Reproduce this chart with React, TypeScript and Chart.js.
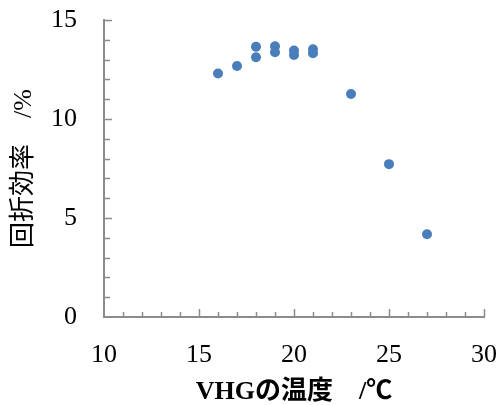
import React, { useEffect, useRef } from "react";
import { Chart, registerables } from "chart.js";

Chart.register(...registerables);

// ---- data ----
const temperatures = [16, 17, 18, 18, 19, 19, 20, 20, 21, 21, 23, 25, 27];
const efficiencies = [12.3, 12.68, 13.12, 13.65, 13.67, 13.37, 13.46, 13.23, 13.52, 13.32, 11.26, 7.72, 4.18];
const xRange = [10, 30];
const yRange = [0, 15];
const majorStep = 5;
const minorStep = 1;
const xTitle = "VHGの温度　/℃";
const yTitle = "回折効率　/%";

const AXIS_COLOR = "#8c8c8c";
const POINT_COLOR = "#4a7ebb";
const SERIF = "'Liberation Serif', 'Noto Sans CJK JP', serif";

const inwardTicks = {
  id: "inwardTicks",
  afterDraw(chart: any) {
    const { ctx, chartArea, scales } = chart;
    const x = scales.x;
    const y = scales.y;
    ctx.save();
    ctx.strokeStyle = AXIS_COLOR;
    ctx.lineWidth = 1.5;
    ctx.beginPath();
    for (let v = xRange[0] + minorStep; v <= xRange[1]; v += minorStep) {
      const px = Math.round(x.getPixelForValue(v)) + 0.5;
      const len = v % majorStep === 0 ? 8 : 5;
      ctx.moveTo(px, chartArea.bottom);
      ctx.lineTo(px, chartArea.bottom - len);
    }
    for (let v = yRange[0] + minorStep; v <= yRange[1]; v += minorStep) {
      const py = Math.round(y.getPixelForValue(v)) + 0.5;
      const len = v % majorStep === 0 ? 8 : 6;
      ctx.moveTo(chartArea.left, py);
      ctx.lineTo(chartArea.left + len, py);
    }
    ctx.stroke();
    ctx.restore();
  },
};

export default function App() {
  const canvasRef = useRef<HTMLCanvasElement | null>(null);

  useEffect(() => {
    document.body.style.margin = "0";
    const canvas = canvasRef.current;
    if (!canvas) return;
    const chart = new Chart(canvas, {
      type: "scatter",
      data: {
        datasets: [
          {
            data: temperatures.map((t, i) => ({ x: t, y: efficiencies[i] })),
            backgroundColor: POINT_COLOR,
            borderColor: POINT_COLOR,
            pointRadius: 5,
            pointBorderWidth: 0,
          },
        ],
      },
      options: {
        animation: false,
        responsive: false,
        maintainAspectRatio: false,
        layout: { padding: { top: 20, right: 20, left: 0, bottom: 0 } },
        plugins: { legend: { display: false }, tooltip: { enabled: false } },
        scales: {
          x: {
            type: "linear",
            min: xRange[0],
            max: xRange[1],
            afterFit: (s: any) => {
              s.height = 88;
              s.paddingLeft = 0;
              s.paddingRight = 0;
              s.paddingTop = 0;
              s.paddingBottom = 0;
            },
            grid: { display: false, drawTicks: false },
            border: { display: true, color: AXIS_COLOR, width: 2 },
            ticks: {
              stepSize: majorStep,
              padding: 23,
              color: "#000",
              font: { family: SERIF, size: 26 },
              maxRotation: 0,
            },
            title: {
              display: true,
              text: xTitle,
              color: "#000",
              font: { family: SERIF, size: 26, weight: "bold" },
              padding: { top: 0, bottom: -3 },
            },
          },
          y: {
            type: "linear",
            min: yRange[0],
            max: yRange[1],
            afterFit: (s: any) => {
              s.width = 104;
              s.paddingLeft = 0;
              s.paddingRight = 0;
              s.paddingTop = 0;
              s.paddingBottom = 0;
            },
            grid: { display: false, drawTicks: false },
            border: { display: true, color: AXIS_COLOR, width: 2 },
            ticks: {
              stepSize: majorStep,
              padding: 27,
              color: "#000",
              font: { family: SERIF, size: 26 },
            },
            title: {
              display: true,
              text: yTitle,
              color: "#000",
              font: { family: SERIF, size: 26, weight: "normal" },
              padding: { top: 9, bottom: 0 },
            },
          },
        },
      },
      plugins: [inwardTicks],
    });
    return () => chart.destroy();
  }, []);

  return (
    <div style={{ width: 504, height: 405, background: "#fff" }}>
      <canvas ref={canvasRef} width={504} height={405} style={{ display: "block" }} />
    </div>
  );
}
